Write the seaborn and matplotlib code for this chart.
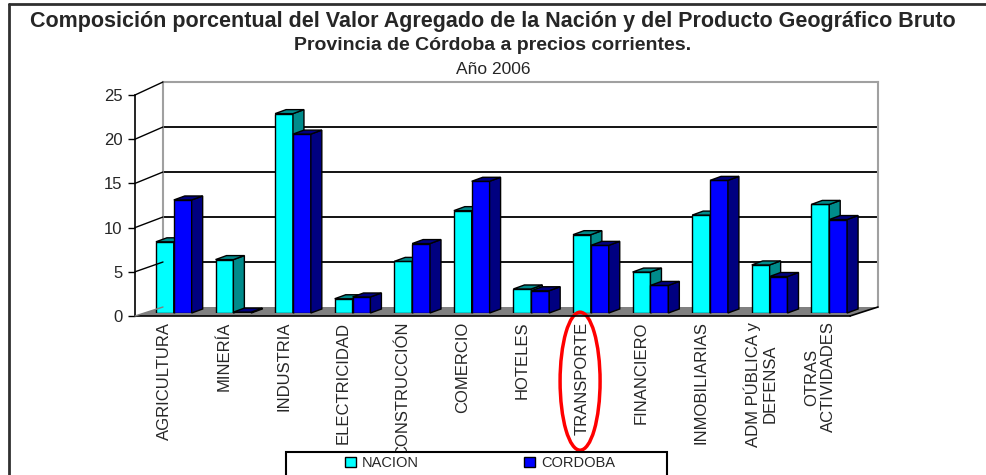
import numpy as np
import pandas as pd
import seaborn as sns
import matplotlib.pyplot as plt
import matplotlib.transforms as mtransforms
from matplotlib.patches import Polygon, Rectangle, Ellipse
from matplotlib.lines import Line2D

sectores = ["AGRICULTURA", "MINERÍA", "INDUSTRIA", "ELECTRICIDAD", "CONSTRUCCIÓN",
            "COMERCIO", "HOTELES", "TRANSPORTE", "FINANCIERO", "INMOBILIARIAS",
            "ADM PÚBLICA y\nDEFENSA", "OTRAS\nACTIVIDADES"]
nacion = [8.0, 6.0, 22.4, 1.6, 5.8, 11.5, 2.7, 8.8, 4.6, 11.0, 5.4, 12.2]
cordoba = [12.7, 0.1, 20.1, 1.8, 7.8, 14.8, 2.5, 7.6, 3.1, 14.9, 4.1, 10.5]
series = ["NACION", "CORDOBA"]
colores = ["#00FFFF", "#0000FF"]
sombras = ["#008B8B", "#000080"]
y_ticks = [0, 5, 10, 15, 20, 25]

df = pd.DataFrame({
    "sector": sectores * 2,
    "valor": nacion + cordoba,
    "serie": [series[0]] * len(sectores) + [series[1]] * len(sectores),
})

sns.set_style("white")
plt.rcParams["font.family"] = ["Liberation Sans", "DejaVu Sans"]

W, H = 986, 475
fig = plt.figure(figsize=(W / 100, H / 100), dpi=100)


def rect(l, t, r, b):
    return [l / W, 1 - b / H, (r - l) / W, (b - t) / H]


def fpt(x, y):
    return (x / W, 1 - y / H)


# back wall
ax_back = fig.add_axes(rect(163, 82, 878, 307), zorder=0)
ax_back.set_xlim(0, 1)
ax_back.set_ylim(0, 25)
ax_back.set_xticks([])
ax_back.set_yticks([])
for s in ["top", "right", "left"]:
    ax_back.spines[s].set_color("#a0a0a0")
    ax_back.spines[s].set_linewidth(1.5)
ax_back.spines["bottom"].set_visible(False)
for v in y_ticks[1:-1]:
    ax_back.axhline(v, color="black", lw=1.3)

# floor
floor = Polygon([fpt(135, 316), fpt(850, 316), fpt(878, 307), fpt(163, 307)],
                closed=True, transform=fig.transFigure, facecolor="#808080",
                edgecolor="none", zorder=0.5)
fig.patches.append(floor)

# bars
ax_bars = fig.add_axes(rect(144, 90.5, 859, 313), zorder=1)
ax_bars.patch.set_alpha(0)
sns.barplot(data=df, x="sector", y="valor", hue="serie", palette=colores,
            width=0.6, edgecolor="black", linewidth=1, saturation=1,
            legend=False, ax=ax_bars)
ax_bars.set_xlim(-0.5, len(sectores) - 0.5)
ax_bars.set_ylim(0, 25)
ax_bars.axis("off")

px_x = 715 / len(sectores)
px_y = (313 - 90.5) / 25
dxd = 11 / px_x
dyd = 4 / px_y
for k, (cont, sombra) in enumerate(zip(ax_bars.containers, sombras)):
    for bar in cont:
        x0 = bar.get_x()
        x1 = x0 + bar.get_width()
        h = bar.get_height()
        bar.set_zorder(2 + k)
        side = Polygon([(x1, 0), (x1 + dxd, dyd), (x1 + dxd, h + dyd), (x1, h)],
                       closed=True, facecolor=sombra, edgecolor="black", lw=1,
                       zorder=2 + k, clip_on=False)
        top = Polygon([(x0, h), (x1, h), (x1 + dxd, h + dyd), (x0 + dxd, h + dyd)],
                      closed=True, facecolor=sombra, edgecolor="black", lw=1,
                      zorder=2 + k, clip_on=False)
        ax_bars.add_patch(side)
        ax_bars.add_patch(top)

# front axes
ax = fig.add_axes(rect(135, 95, 850, 316), zorder=2)
ax.patch.set_alpha(0)
ax.set_xlim(-0.5, len(sectores) - 0.5)
ax.set_ylim(0, 25)
ax.set_yticks(y_ticks)
ax.set_yticklabels([str(v) for v in y_ticks], fontsize=12)
ax.set_xticks(range(len(sectores)))
ax.set_xticklabels(sectores, rotation=90, fontsize=12, va="top", ha="center",
                   multialignment="center")
ax.set_xticks(np.arange(-0.5, len(sectores), 1), minor=True)
ax.tick_params(axis="x", which="major", length=0, pad=4)
ax.tick_params(axis="x", which="minor", length=5, width=1, color="black", direction="out")
ax.tick_params(axis="y", length=5, width=1, color="black", direction="out", left=True, pad=4)
for s in ["top", "right"]:
    ax.spines[s].set_visible(False)
for s in ["left", "bottom"]:
    ax.spines[s].set_color("black")
    ax.spines[s].set_linewidth(1.2)

# labels are cut where the legend box starts, as in the original
clip = mtransforms.TransformedBbox(
    mtransforms.Bbox.from_extents(0, 1 - 451 / H, 1, 1), fig.transFigure)
for lbl in ax.get_xticklabels():
    lbl.set_clip_box(clip)
    lbl.set_clip_on(True)

# left wall diagonals and right floor edge
to_fig = fig.transFigure.inverted()
for v in y_ticks:
    a = to_fig.transform(ax.transData.transform((-0.5, v)))
    b = to_fig.transform(ax_back.transData.transform((0, v)))
    fig.add_artist(Line2D([a[0], b[0]], [a[1], b[1]], color="black" if v else "#808080",
                          lw=1, transform=fig.transFigure, zorder=3))
a = to_fig.transform(ax.transData.transform((len(sectores) - 0.5, 0)))
b = to_fig.transform(ax_back.transData.transform((1, 0)))
fig.add_artist(Line2D([a[0], b[0]], [a[1], b[1]], color="black", lw=1.2,
                      transform=fig.transFigure, zorder=3))

# red highlight around TRANSPORTE
trans = mtransforms.blended_transform_factory(ax.transData, ax.transAxes)
idx = sectores.index("TRANSPORTE")
ax.add_patch(Ellipse((idx - 0.03, -0.295), width=40 / px_x, height=138 / 221,
                     transform=trans, fill=False, edgecolor="red", lw=2.5, clip_on=False))

# titles
fig.text(0.5, 1 - 22 / H,
         "Composición porcentual del Valor Agregado de la Nación y del Producto Geográfico Bruto",
         ha="center", va="center", fontsize=15.5, fontweight="bold")
fig.text(0.5, 1 - 46 / H, "Provincia de Córdoba a precios corrientes.",
         ha="center", va="center", fontsize=14, fontweight="bold")
fig.text(0.5, 1 - 69 / H, "Año 2006", ha="center", va="center", fontsize=12.5)

# legend
fig.patches.append(Rectangle(fpt(286, 480), 381 / W, 28 / H, transform=fig.transFigure,
                             fill=False, edgecolor="black", lw=1.5, zorder=4))
handles = [Rectangle((0, 0), 1, 1, facecolor=c, edgecolor="black", lw=1) for c in colores]
fig.legend(handles, series, loc="center", bbox_to_anchor=fpt(480, 463), ncol=2,
           frameon=False, fontsize=10.5, handlelength=0.75, handleheight=0.75,
           handletextpad=0.4, columnspacing=7.2)

# outer frame
fig.add_artist(Line2D([9 / W, 9 / W], [0, 1 - 4 / H], color="#303030", lw=2,
                      transform=fig.transFigure))
fig.add_artist(Line2D([9 / W, 1], [1 - 4 / H, 1 - 4 / H], color="#303030", lw=2,
                      transform=fig.transFigure))

fig.savefig("out.png", dpi=100)
